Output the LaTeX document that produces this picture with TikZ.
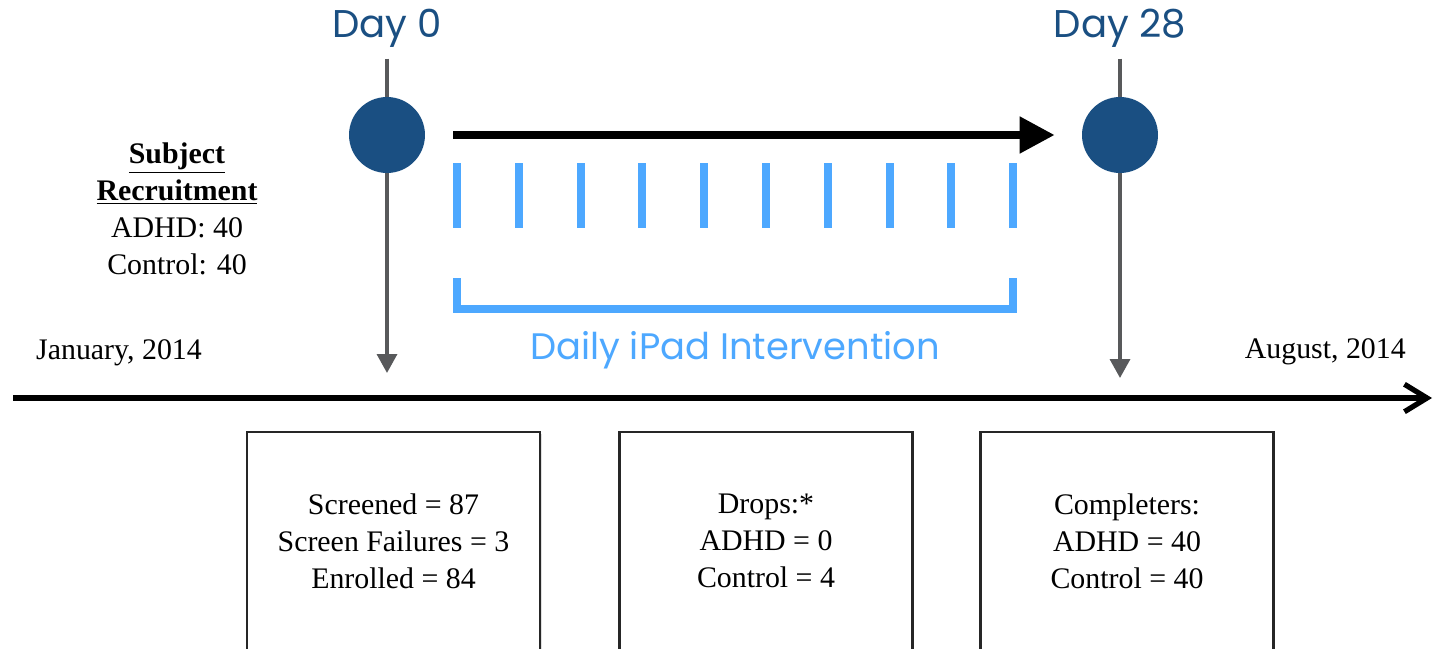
\documentclass[tikz,border=0pt]{standalone}
\usepackage{fontspec}
\setmainfont{Liberation Serif}
\newfontfamily\visitfont{Poppins}
\usetikzlibrary{arrows.meta, shadows}
\definecolor{visitblue}{RGB}{26,79,130}
\definecolor{ipadblue}{RGB}{77,168,255}
\definecolor{leadgray}{RGB}{88,89,91}

\begin{document}
\begin{tikzpicture}[x=0.02cm, y=-0.02cm,
  daylabel/.style={text=visitblue, font=\visitfont\fontsize{22}{26}\selectfont},
  visit/.style={circle, fill=visitblue, inner sep=0pt, minimum size=1.52cm},
  lead/.style={leadgray, line width=2pt, -{Triangle[width=0.4cm, length=0.38cm]}},
  progress/.style={black, line width=4.5pt, -{Triangle[width=0.7cm, length=0.7cm]}},
  session/.style={ipadblue, line width=4.5pt},
  timeline/.style={black, line width=3pt, -{Straight Barb[width=0.55cm, length=0.45cm]}},
  serif/.style={font=\fontsize{17}{21}\selectfont, align=center},
  countbox/.style={serif, draw=black!85, line width=1.6pt, fill=white,
    minimum width=5.86cm, minimum height=4.36cm,
    drop shadow={opacity=0.25, shadow xshift=1pt, shadow yshift=-1pt}}]
\path[use as bounding box, clip] (0,0) rectangle (1438,649);

% study calendar
\coordinate (jan) at (13,398);
\coordinate (aug) at (1432,398);
\draw[timeline] (jan) -- (aug);
\node[serif, anchor=west] (start) at (30,353) {January, 2014};
\node[serif, anchor=east] (finish) at (1412,352) {August, 2014};

% the two visits
\node[daylabel] (day0) at (387,28) {Day 0};
\node[daylabel] (day28) at (1120,28) {Day 28};
\coordinate (hit0) at (387,373);
\coordinate (hit28) at (1120,378);
\draw[lead] ([yshift=-3pt]day0.south) -- (hit0);
\draw[lead] ([yshift=-3pt]day28.south) -- (hit28);
\node[visit] (visit0) at (387,135) {};
\node[visit] (visit28) at (1120,135) {};
\draw[progress] ([xshift=0.56cm]visit0.east) -- ([xshift=-0.54cm]visit28.west);

% one tick per session, bracket underneath
\foreach \i in {0,...,9}{% ten sessions shown
\draw[session] ({457+\i*61.8},163) -- ({457+\i*61.8},228);}
\draw[session, line width=4pt] (457,278) |- (1013,309) -- (1013,278);
\node[text=ipadblue, font=\visitfont\fontsize{21}{25}\selectfont] (ipad) at (735,350)
  {Daily iPad Intervention};

\node[serif] (recruit) at (177,209)
  {\textbf{\underline{Subject}}\\\textbf{\underline{Recruitment}}\\ADHD: 40\\Control: 40};

% counts below the calendar
\node[countbox] (screen) at (393.5,541)
  {Screened = 87\\Screen Failures = 3\\Enrolled = 84};
\node[countbox] (drops) at (766,541)
  {Drops:*\\ADHD = 0\\Control = 4};
\node[countbox] (done) at (1127,541)
  {Completers:\\ADHD = 40\\Control = 40};
\end{tikzpicture}
\end{document}
